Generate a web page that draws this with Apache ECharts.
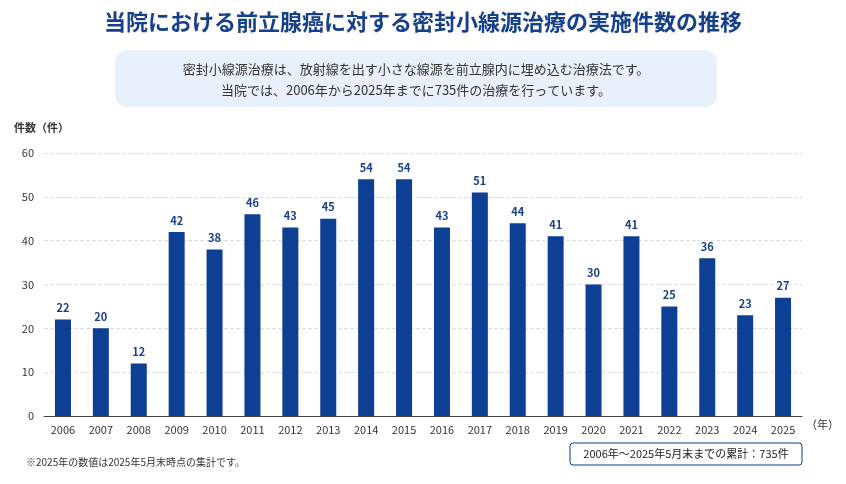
<!DOCTYPE html>
<html lang="ja">
<head>
<meta charset="utf-8">
<style>
  html, body { margin: 0; height: 100%; background: #fff; }
  #container { width: 846px; height: 484px; }
</style>
</head>
<body>
<div id="container"></div>
<script src="https://cdn.jsdelivr.net/npm/echarts@6/dist/echarts.min.js"></script>
<script>
var years = ['2006','2007','2008','2009','2010','2011','2012','2013','2014','2015',
             '2016','2017','2018','2019','2020','2021','2022','2023','2024','2025'];
var counts = [22, 20, 12, 42, 38, 46, 43, 45, 54, 54, 43, 51, 44, 41, 30, 41, 25, 36, 23, 27];
var yTicks = [0, 10, 20, 30, 40, 50, 60];

var font = '"Noto Sans CJK JP", "Noto Sans", sans-serif';
var navy = '#0d3f94';

var chart = echarts.init(document.getElementById('container'), null, { renderer: 'canvas' });

var option = {
  textStyle: { fontFamily: font },
  title: {
    text: '当院における前立腺癌に対する密封小線源治療の実施件数の推移',
    left: 'center', top: 6,
    textStyle: { fontSize: 22, fontWeight: 'bold', color: '#163f8c', fontFamily: font }
  },
  graphic: [
    { type: 'rect', shape: { x: 115, y: 50, width: 602, height: 57, r: 12 },
      style: { fill: '#e8f0fb' } },
    { type: 'text', style: { x: 416, y: 69, text: '密封小線源治療は、放射線を出す小さな線源を前立腺内に埋め込む治療法です。',
      textAlign: 'center', textVerticalAlign: 'middle', fontSize: 13, fill: '#333', fontFamily: font } },
    { type: 'text', style: { x: 416, y: 90, text: '当院では、2006年から2025年までに735件の治療を行っています。',
      textAlign: 'center', textVerticalAlign: 'middle', fontSize: 13, fill: '#333', fontFamily: font } },
    { type: 'text', style: { x: 14, y: 128, text: '件数（件）', textVerticalAlign: 'middle',
      fontSize: 11, fontWeight: 'bold', fill: '#333', fontFamily: font } },
    { type: 'text', style: { x: 806, y: 425, text: '（年）', textVerticalAlign: 'middle',
      fontSize: 11, fill: '#333', fontFamily: font } },
    { type: 'text', style: { x: 26, y: 462, text: '※2025年の数値は2025年5月末時点の集計です。', textVerticalAlign: 'middle',
      fontSize: 10, fill: '#333', fontFamily: font } },
    { type: 'rect', shape: { x: 570, y: 443, width: 232, height: 22, r: 3 },
      style: { fill: '#fff', stroke: navy, lineWidth: 1 } },
    { type: 'text', style: { x: 686, y: 454, text: '2006年〜2025年5月末までの累計：735件',
      textAlign: 'center', textVerticalAlign: 'middle', fontSize: 11, fill: '#222', fontFamily: font } }
  ],
  grid: { left: 44, right: 44, top: 153, bottom: 68 },
  xAxis: {
    type: 'category',
    data: years,
    axisLine: { lineStyle: { color: '#444' } },
    axisTick: { show: false },
    axisLabel: { color: '#333', fontSize: 11, margin: 8 }
  },
  yAxis: {
    type: 'value',
    min: yTicks[0], max: yTicks[yTicks.length - 1], interval: 10,
    axisLine: { show: false },
    axisTick: { show: false },
    axisLabel: { color: '#333', fontSize: 11, margin: 10 },
    splitLine: { lineStyle: { color: '#dcdcdc', type: 'dashed' } }
  },
  series: [{
    type: 'bar',
    data: counts,
    barWidth: 16,
    itemStyle: { color: navy },
    label: { show: true, position: 'top', color: '#163f8c', fontSize: 11, fontWeight: 'bold', distance: 6 }
  }]
};

chart.setOption(option);
window.addEventListener('resize', chart.resize);
</script>
</body>
</html>
